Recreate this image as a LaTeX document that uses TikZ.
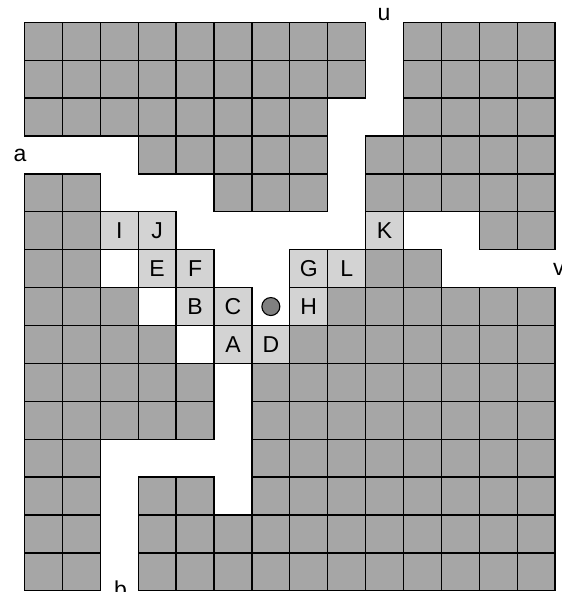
\documentclass[tikz,border=0pt]{standalone}
\usepackage{fontspec}
\setmainfont{Liberation Sans}
\definecolor{cellgray}{HTML}{A6A6A6}
\definecolor{celllight}{HTML}{D3D3D3}
\definecolor{dotgray}{HTML}{808080}
\begin{document}
\begin{tikzpicture}[x=37.9pt,y=-37.9pt,
  graycell/.style={draw=black,fill=cellgray,line width=1.3pt},
  lightcell/.style={draw=black,fill=celllight,line width=1.3pt,minimum size=37.9pt,inner sep=0pt,font=\fontsize{23}{26}\selectfont},
  dotmark/.style={circle,draw=black,fill=dotgray,line width=1.1pt,minimum size=18pt,inner sep=0pt},
  lbl/.style={anchor=base,inner sep=0pt,font=\fontsize{23}{26}\selectfont}]
\useasboundingbox (-0.6464,-0.588) rectangle (14.156,15.032);
% gray cells: row/first/last
\foreach \r/\a/\b in {0/0/8,0/10/13,1/0/8,1/10/13,2/0/7,2/10/13,3/3/7,3/9/13,
  4/0/1,4/5/7,4/9/13,5/0/1,5/12/13,6/0/1,6/9/10,7/0/2,7/8/13,8/0/3,8/7/13,
  9/0/4,9/6/13,10/0/4,10/6/13,11/0/1,11/6/13,12/0/1,12/3/4,12/6/13,
  13/0/1,13/3/13,14/0/1,14/3/13}{
  \foreach \c in {\a,...,\b}{
    \draw[graycell] (\c,\r) rectangle ++(1,1);
  }
}
% labelled cells
\node[lightcell] (I) at (2.5,5.5) {I};
\node[lightcell] (J) at (3.5,5.5) {J};
\node[lightcell] (K) at (9.5,5.5) {K};
\node[lightcell] (E) at (3.5,6.5) {E};
\node[lightcell] (F) at (4.5,6.5) {F};
\node[lightcell] (G) at (7.5,6.5) {G};
\node[lightcell] (L) at (8.5,6.5) {L};
\node[lightcell] (B) at (4.5,7.5) {B};
\node[lightcell] (C) at (5.5,7.5) {C};
\node[lightcell] (H) at (7.5,7.5) {H};
\node[lightcell] (A) at (5.5,8.5) {A};
\node[lightcell] (D) at (6.5,8.5) {D};
% marker
\node[dotmark] (dot) at (6.5,7.5) {};
% outer labels
\node[lbl] (u) at (9.485,-0.035) {u};
\node[lbl] (a) at (-0.119,3.686) {a};
\node[lbl] (v) at (14.10,6.668) {v};
\node[lbl] (b) at (2.533,15.19) {b};
\end{tikzpicture}
\end{document}
